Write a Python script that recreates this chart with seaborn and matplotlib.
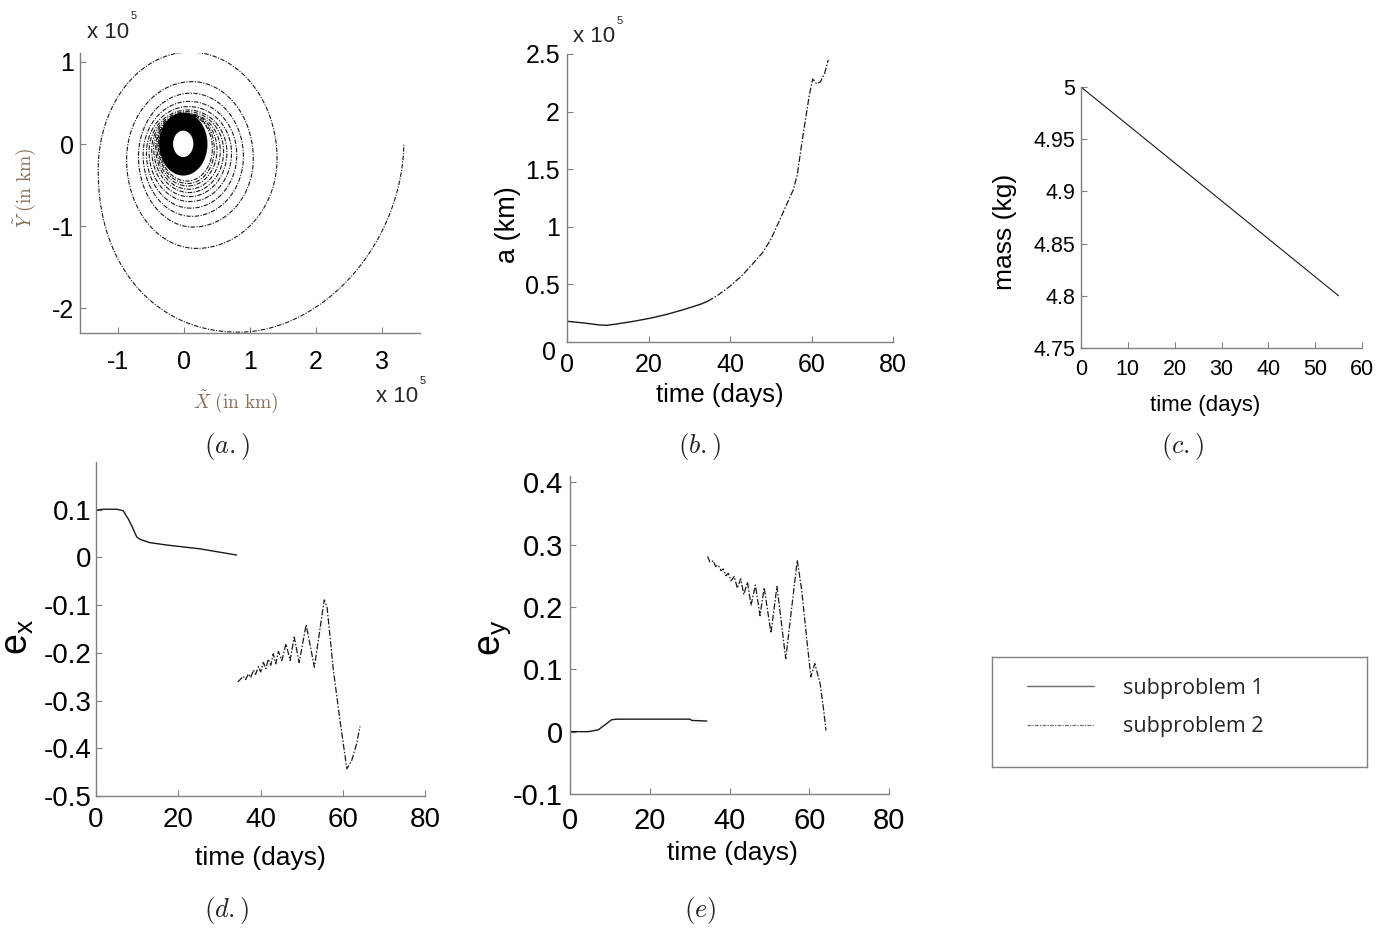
import numpy as np
import matplotlib
matplotlib.use("Agg")
import matplotlib.pyplot as plt
from matplotlib.lines import Line2D
from matplotlib.patches import Ellipse
from matplotlib.ticker import FuncFormatter, FixedLocator
from matplotlib.transforms import ScaledTranslation
import seaborn as sns

# ---------------- data ----------------
# (a) trajectory (units 1e5 km): quarter-turn extreme points of the spiral,
#     innermost revolution first; each revolution = top, left, bottom, right
spiral_x = [0.02, -0.375, 0.05, 0.43,
            0.03, -0.39, 0.06, 0.46,
            0.03, -0.41, 0.06, 0.50,
            0.04, -0.43, 0.07, 0.55,
            0.04, -0.46, 0.08, 0.60,
            0.05, -0.49, 0.08, 0.65,
            0.06, -0.53, 0.09, 0.72,
            0.07, -0.57, 0.10, 0.80,
            0.08, -0.62, 0.12, 0.90,
            0.10, -0.69, 0.14, 1.05,
            0.12, -0.87, 0.19, 1.41,
            0.09, -1.30, 0.85, 3.33]
spiral_y = [0.358, -0.01, -0.45, -0.05,
            0.362, -0.02, -0.48, -0.06,
            0.365, -0.03, -0.51, -0.07,
            0.370, -0.04, -0.55, -0.08,
            0.376, -0.05, -0.59, -0.09,
            0.396, -0.07, -0.64, -0.10,
            0.416, -0.09, -0.70, -0.11,
            0.457, -0.11, -0.78, -0.13,
            0.52, -0.13, -0.88, -0.15,
            0.62, -0.15, -1.01, -0.18,
            0.76, -0.19, -1.27, -0.18,
            1.12, -0.31, -2.29, 0.00]
# points read half-way along the outer arcs (quarter index, x, y)
arc_mid_idx = [45, 46]
arc_mid_x = [-0.85, 2.27]
arc_mid_y = [-1.60, -1.82]
# densely filled subproblem-1 region (cx, cy, rx, ry)
disk_outer = [-0.01, 0.0, 0.355, 0.375]
disk_hole = [-0.012, 0.003, 0.143, 0.152]
a_xticks = [-1, 0, 1, 2, 3]
a_yticks = [-2, -1, 0, 1]

# (b) semi-major axis a (1e5 km)
t_a1 = [0, 4.1, 8.2, 9.8, 12.3, 16.4, 20.5, 24.5, 28.6, 32.7, 34.5]
a1 = [0.180, 0.165, 0.147, 0.145, 0.157, 0.180, 0.207, 0.240, 0.281, 0.327, 0.353]
t_a2 = [34.5, 37, 40, 43, 46, 48, 50, 52, 54, 55.5, 56.5, 57.5, 58.5, 59.5,
        60.3, 60.8, 61.3, 62.2, 63.2, 64.1]
a2 = [0.353, 0.406, 0.484, 0.579, 0.695, 0.776, 0.889, 1.043, 1.202, 1.318,
      1.449, 1.695, 1.927, 2.150, 2.283, 2.26, 2.24, 2.26, 2.33, 2.448]
b_xticks = [0, 20, 40, 60, 80]
b_yticks = [0, 0.5, 1, 1.5, 2, 2.5]

# (c) mass (kg)
t_m = [0, 30, 55]
mass = [5.0, 4.891, 4.80]
c_xticks = [0, 10, 20, 30, 40, 50, 60]
c_yticks = [4.75, 4.8, 4.85, 4.9, 4.95, 5.0]

# (d) e_x
t_ex1 = [0, 1.8, 5.0, 6.6, 7.9, 8.7, 9.9, 10.7, 13.1, 17.2, 25.3, 34.2]
ex1 = [0.099, 0.101, 0.101, 0.098, 0.080, 0.066, 0.043, 0.038, 0.031, 0.026, 0.018, 0.005]
t_ex2 = [34.5, 35.83, 36.4, 37.05, 37.6, 38.3, 38.8, 39.5, 40.05, 40.7, 41.3, 41.9,
         42.5, 43.1, 43.7, 44.35, 45.2, 46.2, 47.2, 48.2, 49.4, 51.1, 53.1, 55.5,
         56.2, 57.7, 59.3, 61.0, 62.2, 63.4, 64.2]
ex2 = [-0.261, -0.249, -0.256, -0.244, -0.252, -0.236, -0.245, -0.229, -0.240,
       -0.220, -0.233, -0.213, -0.226, -0.202, -0.223, -0.197, -0.216, -0.181,
       -0.216, -0.167, -0.220, -0.141, -0.230, -0.089, -0.105, -0.235, -0.340,
       -0.443, -0.425, -0.390, -0.354]
d_xticks = [0, 20, 40, 60, 80]
d_yticks = [-0.5, -0.4, -0.3, -0.2, -0.1, 0, 0.1]

# (e) e_y
t_ey1 = [0, 4.6, 7.1, 8.8, 10.4, 11.7, 30.1, 30.5, 34.3]
ey1 = [0, 0, 0.003, 0.011, 0.019, 0.020, 0.020, 0.018, 0.017]
t_ey2 = [34.5, 35.1, 35.95, 36.5, 37.2, 37.9, 38.45, 39.1, 39.7, 40.4, 41.2, 41.96,
         42.8, 43.6, 44.5, 45.4, 46.5, 47.65, 48.7, 50.4, 51.9, 54.1, 57.0, 58.1,
         59.4, 60.4, 61.4, 62.7, 63.5, 64.2]
ey2 = [0.281, 0.272, 0.274, 0.265, 0.267, 0.258, 0.261, 0.250, 0.254, 0.242,
       0.249, 0.230, 0.245, 0.220, 0.240, 0.203, 0.235, 0.186, 0.231, 0.158,
       0.233, 0.117, 0.275, 0.227, 0.147, 0.088, 0.109, 0.078, 0.040, 0.002]
e_xticks = [0, 20, 40, 60, 80]
e_yticks = [-0.1, 0, 0.1, 0.2, 0.3, 0.4]

legend_labels = ["subproblem 1", "subproblem 2"]

# ---------------- style ----------------
sns.set_theme(style="white")
plt.rcParams["font.family"] = ["Liberation Sans", "DejaVu Sans"]
plt.rcParams["mathtext.fontset"] = "cm"

W, H = 1388, 930
LINE = "#1a1a1a"
SPINE = "#808080"
SUB1 = dict(color=LINE, linewidth=1.0, linestyle="-")
SUB2 = dict(color=LINE, linewidth=0.9, linestyle=(0, (5, 1.5, 1.2, 1.5)))

fig = plt.figure(figsize=(W / 100, H / 100), dpi=100)
fig.patch.set_facecolor("white")


def rect(r):
    l, t, rr, b = r
    return [l / W, 1 - b / H, (rr - l) / W, (b - t) / H]


def style_axes(ax, r, xt, yt, fs, xpad, ypad):
    sns.despine(ax=ax)
    for s in ("left", "bottom"):
        ax.spines[s].set_color(SPINE)
        ax.spines[s].set_linewidth(1.0)
    ax.xaxis.set_major_locator(FixedLocator(xt))
    ax.yaxis.set_major_locator(FixedLocator(yt))
    fmt = FuncFormatter(lambda v, p: f"{v:g}")
    ax.xaxis.set_major_formatter(fmt)
    ax.yaxis.set_major_formatter(fmt)
    ax.tick_params(direction="in", length=4, width=0.8, color=SPINE,
                   labelsize=fs, labelcolor="black", bottom=True, left=True)
    ax.tick_params(axis="x", pad=xpad)
    ax.tick_params(axis="y", pad=ypad)
    ax.set_facecolor("white")


def place_labels(ax, r, xlabel, xpos, ylabel, ypos, xfs, yfs, color="black"):
    l, t, rr, b = r
    ax.set_xlabel(xlabel, fontsize=xfs, color=color)
    ax.set_ylabel(ylabel, fontsize=yfs, color=color)
    ax.xaxis.set_label_coords((xpos[0] - l) / (rr - l), (b - xpos[1]) / (b - t))
    ax.yaxis.set_label_coords((ypos[0] - l) / (rr - l), (b - ypos[1]) / (b - t))
    ax.xaxis.label.set_verticalalignment("center")
    ax.yaxis.label.set_verticalalignment("center")
    ax.yaxis.label.set_horizontalalignment("center")


def ftext(x, y, s, **kw):
    fig.text(x / W, 1 - y / H, s, **kw)


def solve_exponent(u, v):
    lo, hi = 0.8, 12.0
    for _ in range(60):
        mid = 0.5 * (lo + hi)
        if u ** mid + v ** mid > 1:
            lo = mid
        else:
            hi = mid
    return 0.5 * (lo + hi)


def build_spiral(px, py, mid_idx, mid_x, mid_y, n=40):
    mids = {i: (mx, my) for i, mx, my in zip(mid_idx, mid_x, mid_y)}
    th = np.linspace(0, np.pi / 2, n)
    X, Y = [], []
    for k in range(len(px) - 1):
        P = (px[k], py[k])
        Q = (px[k + 1], py[k + 1])
        horiz = (k % 4) in (0, 2)
        expo = 2.0
        if k in mids:
            M = mids[k]
            if horiz:
                u = (M[0] - P[0]) / (Q[0] - P[0])
                v = (M[1] - Q[1]) / (P[1] - Q[1])
            else:
                u = (M[0] - Q[0]) / (P[0] - Q[0])
                v = (M[1] - P[1]) / (Q[1] - P[1])
            expo = solve_exponent(u, v)
        s = np.sin(th) ** (2 / expo)
        c = np.cos(th) ** (2 / expo)
        if horiz:
            x = P[0] + (Q[0] - P[0]) * s
            y = Q[1] + (P[1] - Q[1]) * c
        else:
            x = Q[0] + (P[0] - Q[0]) * c
            y = P[1] + (Q[1] - P[1]) * s
        if k > 0:
            x, y = x[1:], y[1:]
        X.extend(x)
        Y.extend(y)
    return np.array(X), np.array(Y)


def line(ax, x, y, kw):
    sns.lineplot(x=x, y=y, ax=ax, sort=False, estimator=None, errorbar=None, **kw)


# ---------------- panel (a) ----------------
ra = (80, 53, 420, 333)
ax_a = fig.add_axes(rect(ra))
sx, sy = build_spiral(spiral_x, spiral_y, arc_mid_idx, arc_mid_x, arc_mid_y)
line(ax_a, sx, sy, dict(color=LINE, linewidth=0.8, linestyle=(0, (4, 1.3, 1, 1.3))))
ax_a.add_patch(Ellipse((disk_outer[0], disk_outer[1]), 2 * disk_outer[2], 2 * disk_outer[3],
                       facecolor="black", edgecolor="black", zorder=3))
ax_a.add_patch(Ellipse((disk_hole[0], disk_hole[1]), 2 * disk_hole[2], 2 * disk_hole[3],
                       facecolor="white", edgecolor="white", zorder=4))
ax_a.set_xlim(-1.576, 3.576)
ax_a.set_ylim(-2.30, 1.109)
style_axes(ax_a, ra, a_xticks, a_yticks, 18, 12, 4)
place_labels(ax_a, ra, r"$\tilde{X}\ \mathrm{(in\ km)}$", (236, 402),
             r"$\tilde{Y}\ \mathrm{(in\ km)}$", (25, 188), 14, 14, color="#86705a")
ftext(87, 33, "x 10", fontsize=16, ha="left", va="center")
ftext(131, 16, "5", fontsize=8, ha="left", va="center")
ftext(376, 397, "x 10", fontsize=16, ha="left", va="center")
ftext(420, 381, "5", fontsize=8, ha="left", va="center")

# ---------------- panel (b) ----------------
rb = (567, 54, 893, 342)
ax_b = fig.add_axes(rect(rb))
line(ax_b, t_a1, a1, SUB1)
line(ax_b, t_a2, a2, SUB2)
ax_b.set_xlim(0, 80)
ax_b.set_ylim(0, 2.5)
style_axes(ax_b, rb, b_xticks, b_yticks, 18, 8, 5)
place_labels(ax_b, rb, "time (days)", (720, 395), "a (km)", (508, 225), 18.5, 19.5)
ftext(573, 36, "x 10", fontsize=16, ha="left", va="center")
ftext(617, 21, "5", fontsize=8, ha="left", va="center")
# the lowest y tick label sits a little lower-left in the original
zero_lbl = ax_b.yaxis.get_major_ticks()[0].label1
zero_lbl.set_transform(zero_lbl.get_transform()
                       + ScaledTranslation(-0.04, -0.08, fig.dpi_scale_trans))

# ---------------- panel (c) ----------------
rc = (1081, 87, 1362, 348)
ax_c = fig.add_axes(rect(rc))
line(ax_c, t_m, mass, dict(color=LINE, linewidth=0.8, linestyle="-"))
ax_c.set_xlim(0, 60)
ax_c.set_ylim(4.75, 5.0)
style_axes(ax_c, rc, c_xticks, c_yticks, 15.5, 8, 4)
place_labels(ax_c, rc, "time (days)", (1205, 405), "mass (kg)", (1005, 232), 16, 19)

# ---------------- panel (d) ----------------
rd = (96, 462, 425, 796)
ax_d = fig.add_axes(rect(rd))
line(ax_d, t_ex1, ex1, SUB1)
line(ax_d, t_ex2, ex2, SUB2)
ax_d.set_xlim(0, 80)
ax_d.set_ylim(-0.5, 0.2)
style_axes(ax_d, rd, d_xticks, d_yticks, 20, 8, 3)
place_labels(ax_d, rd, "time (days)", (260, 858), r"$\mathregular{e_x}$", (18, 637), 19, 27)

# ---------------- panel (e) ----------------
re_ = (570, 476, 889, 794)
ax_e = fig.add_axes(rect(re_))
line(ax_e, t_ey1, ey1, SUB1)
line(ax_e, t_ey2, ey2, SUB2)
ax_e.set_xlim(0, 80)
ax_e.set_ylim(-0.1, 0.41)
style_axes(ax_e, re_, e_xticks, e_yticks, 21, 9, 5)
place_labels(ax_e, re_, "time (days)", (732, 853), r"$\mathregular{e_y}$", (495, 638), 19, 27)

# ---------------- captions ----------------
for (cx, cy, s) in [(227, 446, r"$(a.)$"), (700, 446, r"$(b.)$"), (1183, 446, r"$(c.)$"),
                    (227, 910, r"$(d.)$"), (700, 910, r"$(e)$")]:
    ftext(cx, cy, s, fontsize=19, ha="center", va="center", color="#222222")

# ---------------- legend box ----------------
rl = (992, 657, 1367, 767)
ax_l = fig.add_axes(rect(rl))
ax_l.set_xticks([])
ax_l.set_yticks([])
for s in ax_l.spines.values():
    s.set_color(SPINE)
    s.set_linewidth(1.0)
handles = [Line2D([], [], color="#707070", linewidth=1.0, linestyle="-"),
           Line2D([], [], color="#707070", linewidth=0.9, linestyle=(0, (3, 1, 1, 1)))]
ax_l.legend(handles, legend_labels, loc="upper left",
            bbox_to_anchor=((1027 - 992) / 375, (767 - 678) / 110),
            frameon=False, borderaxespad=0, borderpad=0,
            handlelength=3.1, handletextpad=1.35, labelspacing=0.8,
            prop={"family": ["Open Sans", "DejaVu Sans"], "size": 15.5})

fig.savefig("out.png", dpi=100)
